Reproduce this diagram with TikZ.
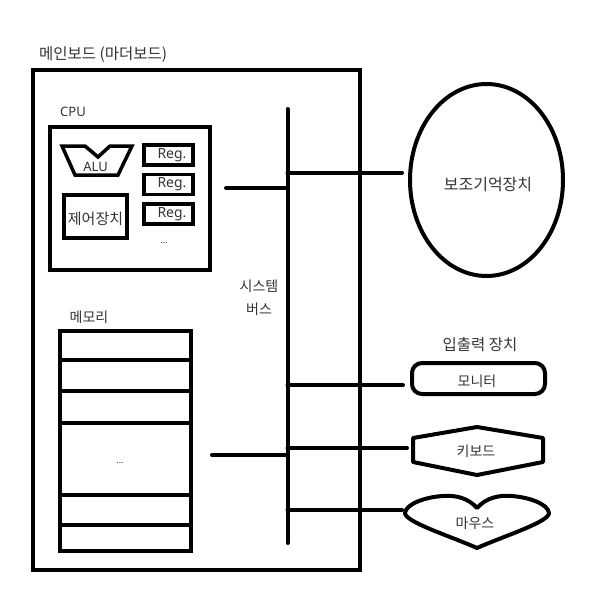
\documentclass[tikz,border=0pt]{standalone}
\usepackage{fontspec}
\setmainfont{Noto Sans}
\newfontfamily\kr{Noto Sans CJK KR}
\usetikzlibrary{shapes.geometric}
\tikzset{
  thick box/.style={draw=black, line width=4pt, inner sep=0pt},
  bus line/.style={line width=4pt, line cap=round},
  lbl/.style={text=black!80, font=\kr\fontsize{14}{16}\selectfont, inner sep=0pt},
  lat/.style={text=black!80, font=\fontsize{13}{15}\selectfont, inner sep=0pt},
}
\begin{document}
\begin{tikzpicture}[x=1pt,y=-1pt]
\useasboundingbox (0,0) rectangle (600,600);
% main board
\node[thick box, line width=4.5pt, minimum width=327pt, minimum height=500pt] (mb) at (196.5,320) {};
\node[lbl, anchor=west, font=\kr\fontsize{15.5}{17}\selectfont] (mbt) at (39,55) {메인보드 (마더보드)};
% CPU
\node[lat, anchor=west] (cput) at (60,112) {CPU};
\node[thick box, minimum width=160pt, minimum height=143pt] (cpu) at (130,198.5) {};
\draw[line width=3.5pt, line join=miter] (62,146) -- (85,146) -- (98,157) -- (110,146) -- (132,146) -- (118,175) -- (75,175) -- cycle;
\node[lat] (alu) at (95.5,167) {ALU};
\node[thick box, line width=3.5pt, minimum width=49pt, minimum height=20pt] (r1) at (168.5,155) {};
\node[thick box, line width=3.5pt, minimum width=49pt, minimum height=20pt] (r2) at (168.5,184.5) {};
\node[thick box, line width=3.5pt, minimum width=49pt, minimum height=20pt] (r3) at (168.5,214) {};
\node[lat, font=\fontsize{14}{16}\selectfont] (r1t) at (172,155) {Reg.};
\node[lat, font=\fontsize{14}{16}\selectfont] (r2t) at (172,184.5) {Reg.};
\node[lat, font=\fontsize{14}{16}\selectfont] (r3t) at (172,214) {Reg.};
\node[lat, font=\fontsize{9}{10}\selectfont] (cdots) at (164,243) {...};
\node[thick box, line width=3.5pt, minimum width=63pt, minimum height=43pt] (ctl) at (95.5,216.5) {};
\node[lbl, font=\kr\fontsize{15}{17}\selectfont] (ctlt) at (95.5,219) {제어장치};
% memory
\node[lbl] (memt) at (89,317) {메모리};
\node[thick box, minimum width=131pt, minimum height=220pt] (mem) at (125.5,441) {};
\foreach \yy in {360,391,423,495,525}
  \draw[line width=4pt] (mem.west |- 0,\yy) -- (mem.east |- 0,\yy);
\node[lat, font=\fontsize{9}{10}\selectfont] (mdots) at (120,463) {...};
% system bus
\coordinate (btop) at (287.5,109);
\coordinate (bbot) at (287.5,543);
\draw[bus line] (btop) -- (bbot);
\node[lbl] (bus1) at (259,286.5) {시스템};
\node[lbl] (bus2) at (259,309) {버스};
\coordinate (bcpu) at (287.5,188);
\coordinate (cpuend) at (226,188);
\draw[bus line] (cpuend) -- (bcpu);
\coordinate (bmem) at (287.5,455);
\coordinate (memend) at (212,455);
\draw[bus line] (memend) -- (bmem);
% secondary storage
\node[draw, line width=4pt, ellipse, minimum width=153pt, minimum height=192pt, inner sep=0pt] (ss) at (486.5,180) {};
\node[lbl, font=\kr\fontsize{16}{18}\selectfont] (sst) at (488,185) {보조기억장치};
\coordinate (bss) at (287.5,172.5);
\coordinate (ssend) at (402,172.5);
\draw[bus line] (bss) -- (ssend);
% I/O
\node[lbl, font=\kr\fontsize{15.5}{17}\selectfont] (iot) at (480,345) {입출력 장치};
\node[draw, line width=4pt, rounded corners=10pt, minimum width=133pt, minimum height=31pt, inner sep=0pt] (mon) at (478.5,378.5) {};
\node[lbl] (mont) at (477,381) {모니터};
\coordinate (bmon) at (287.5,385);
\coordinate (monend) at (403,385);
\draw[bus line] (bmon) -- (monend);
% keyboard
\draw[line width=4pt, line join=round] (413,438) -- (477,427) -- (543,438) -- (543,462) -- (477,475) -- (413,462) -- cycle;
\node[lbl] (kbt) at (476,451) {키보드};
\coordinate (bkb) at (287.5,448);
\coordinate (kbend) at (407,448);
\draw[bus line] (bkb) -- (kbend);
% mouse
\draw[line width=4pt, line join=round] (477,508) .. controls (468,498) and (456,495) .. (443,496) .. controls (425,497) and (406,504) .. (405,513) .. controls (405,522) and (450,536) .. (477,548) .. controls (504,536) and (549,522) .. (549,513) .. controls (548,504) and (529,497) .. (511,496) .. controls (498,495) and (486,498) .. (477,508) -- cycle;
\node[lbl] (mst) at (475,523) {마우스};
\coordinate (bms) at (287.5,510);
\coordinate (msend) at (402,510);
\draw[bus line] (bms) -- (msend);
\end{tikzpicture}
\end{document}
